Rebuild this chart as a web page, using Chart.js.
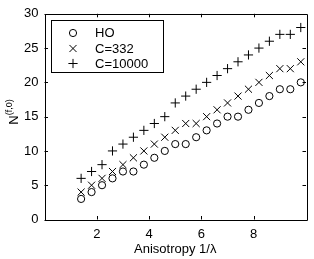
<!DOCTYPE html>
<html>
<head>
<meta charset="utf-8">
<script src="https://cdn.jsdelivr.net/npm/chart.js@4"></script>
<style>
  html, body { margin: 0; padding: 0; background: #fff; }
  #wrap { width: 314px; height: 259px; }
</style>
</head>
<body>
<div id="wrap"><canvas id="c" width="314" height="259"></canvas></div>
<script>
const anisotropy = [1.4, 1.8, 2.2, 2.6, 3.0, 3.4, 3.8, 4.2, 4.6, 5.0, 5.4, 5.8, 6.2, 6.6, 7.0, 7.4, 7.8, 8.2, 8.6, 9.0, 9.4, 9.8];
const hoValues    = [3, 4, 5, 6, 7, 7, 8, 9, 10, 11, 11, 12, 13, 14, 15, 15, 16, 17, 18, 19, 19, 20];
const c332Values  = [4, 5, 6, 7, 8, 9, 10, 11, 12, 13, 14, 14, 15, 16, 17, 18, 19, 20, 21, 22, 22, 23];
const c10000Values = [6, 7, 8, 10, 11, 12, 13, 14, 15, 17, 18, 19, 20, 21, 22, 23, 24, 25, 26, 27, 27, 28];
const seriesLabels = ['HO', 'C=332', 'C=10000'];
const xTicks = [2, 4, 6, 8];
const yTicks = [0, 5, 10, 15, 20, 25, 30];
const xTitle = 'Anisotropy 1/\u03BB';
const yTitleMain = 'N';
const yTitleSup = '(f,0)';

const FONT = 'Liberation Sans, Arial, Helvetica, sans-serif';

function pts(vals) { return anisotropy.map((x, i) => ({ x: x, y: vals[i] })); }

const styles = [
  { pointStyle: 'circle', radius: 3.6 },
  { pointStyle: 'crossRot', radius: 5 },
  { pointStyle: 'cross', radius: 4.6 }
];
const valueSets = [hoValues, c332Values, c10000Values];

const datasets = valueSets.map((v, i) => ({
  label: seriesLabels[i],
  data: pts(v),
  showLine: false,
  pointStyle: styles[i].pointStyle,
  pointRadius: styles[i].radius,
  pointHoverRadius: styles[i].radius,
  pointBorderWidth: 1,
  borderColor: '#000',
  backgroundColor: 'rgba(0,0,0,0)',
  pointBackgroundColor: 'rgba(0,0,0,0)',
  pointBorderColor: '#000'
}));

const framePlugin = {
  id: 'frame',
  afterDraw(chart) {
    const ctx = chart.ctx;
    const a = chart.chartArea;
    const xs = chart.scales.x, ys = chart.scales.y;
    ctx.save();
    ctx.strokeStyle = '#000';
    ctx.lineWidth = 1;
    ctx.beginPath();
    ctx.rect(Math.round(a.left) + 0.5, Math.round(a.top) + 0.5, Math.round(a.right - a.left), Math.round(a.bottom - a.top));
    ctx.stroke();
    const L = 3.5;
    ctx.beginPath();
    xTicks.forEach(t => {
      const px = Math.round(xs.getPixelForValue(t)) + 0.5;
      ctx.moveTo(px, a.bottom); ctx.lineTo(px, a.bottom - L);
      ctx.moveTo(px, a.top); ctx.lineTo(px, a.top + L);
    });
    yTicks.forEach(t => {
      const py = Math.round(ys.getPixelForValue(t)) + 0.5;
      ctx.moveTo(a.left, py); ctx.lineTo(a.left + L, py);
      ctx.moveTo(a.right, py); ctx.lineTo(a.right - L, py);
    });
    ctx.stroke();

    // legend box
    const lx = 51.5, ly = 20.5, lw = 112, lh = 52;
    ctx.fillStyle = '#fff';
    ctx.fillRect(lx, ly, lw, lh);
    ctx.strokeRect(lx, ly, lw, lh);
    const rowsY = [33, 48.5, 63.5];
    ctx.font = '13px ' + FONT;
    ctx.textBaseline = 'middle';
    ctx.textAlign = 'left';
    chart.data.datasets.forEach((ds, i) => {
      ctx.lineWidth = 1;
      ctx.strokeStyle = '#000';
      ctx.fillStyle = 'rgba(0,0,0,0)';
      Chart.helpers.drawPoint(ctx, { pointStyle: ds.pointStyle, radius: ds.pointRadius, borderWidth: 1, rotation: 0 }, 73, rowsY[i]);
      ctx.fillStyle = '#000';
      ctx.fillText(ds.label, 95, rowsY[i] + 0.5);
    });

    // y title with superscript
    ctx.save();
    ctx.fillStyle = '#000';
    ctx.translate(18, 112);
    ctx.rotate(-Math.PI / 2);
    ctx.textBaseline = 'alphabetic';
    ctx.font = '13px ' + FONT;
    const wMain = ctx.measureText(yTitleMain).width;
    ctx.font = '9px ' + FONT;
    const wSup = ctx.measureText(yTitleSup).width;
    const start = -(wMain + wSup) / 2;
    ctx.font = '13px ' + FONT;
    ctx.fillText(yTitleMain, start, 0);
    ctx.font = '9px ' + FONT;
    ctx.fillText(yTitleSup, start + wMain, -6);
    ctx.restore();
    ctx.restore();
  }
};

new Chart(document.getElementById('c'), {
  type: 'scatter',
  data: { datasets: datasets },
  options: {
    responsive: false,
    animation: false,
    devicePixelRatio: 1,
    layout: { padding: { left: 0, right: 8, top: 13, bottom: 0 } },
    plugins: { legend: { display: false }, tooltip: { enabled: false } },
    scales: {
      x: {
        type: 'linear', min: 0, max: 10,
        grid: { display: false, drawTicks: false },
        border: { display: false },
        afterFit(s) { s.height = 39.5; },
        ticks: {
          stepSize: 2, padding: 7, color: '#000', font: { family: FONT, size: 13 },
          maxRotation: 0,
          callback: v => (xTicks.includes(v) ? String(v) : '')
        },
        title: { display: true, text: xTitle, color: '#000', font: { family: FONT, size: 13 }, padding: { top: 0, bottom: 2 } }
      },
      y: {
        type: 'linear', min: 0, max: 30,
        grid: { display: false, drawTicks: false },
        border: { display: false },
        afterFit(s) { s.width = 44.5; },
        ticks: {
          stepSize: 5, padding: 6, color: '#000', font: { family: FONT, size: 13 },
          callback: v => (yTicks.includes(v) ? String(v) : '')
        }
      }
    }
  },
  plugins: [framePlugin]
});
</script>
</body>
</html>
